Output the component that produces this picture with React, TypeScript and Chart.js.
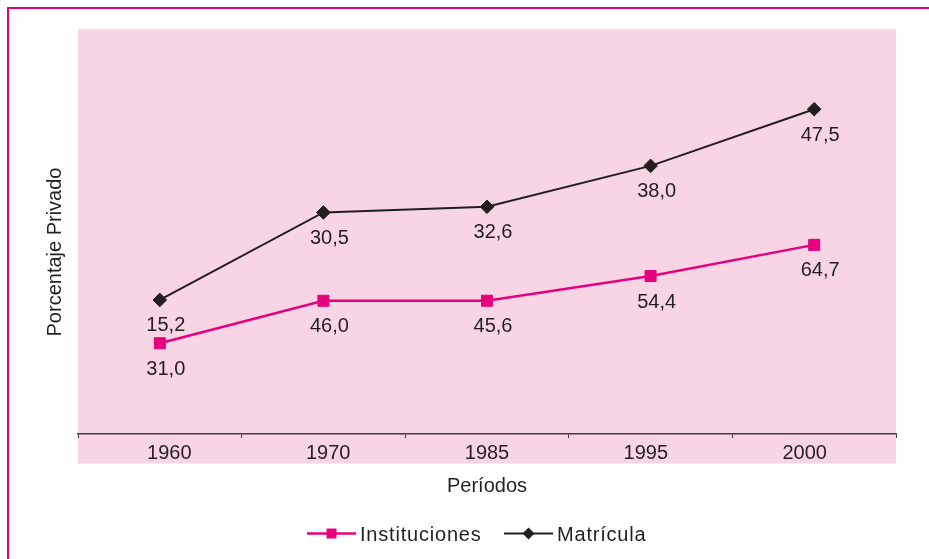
import React, { useEffect, useRef } from "react";
import { Chart, registerables } from "chart.js";

Chart.register(...registerables);

// ---- data ----
const periods = ["1960", "1970", "1985", "1995", "2000"];
const seriesNames = ["Instituciones", "Matrícula"];
// plotted heights of the marks (on a hidden 0–100 axis)
const institucionesPlotted = [22.4, 32.9, 32.9, 39.0, 46.7];
const matriculaPlotted = [33.1, 54.7, 56.1, 66.2, 80.2];
// value labels printed under each mark
const institucionesLabels = ["31,0", "46,0", "45,6", "54,4", "64,7"];
const matriculaLabels = ["15,2", "30,5", "32,6", "38,0", "47,5"];
const yAxisTitle = "Porcentaje Privado";
const xAxisTitle = "Períodos";

// ---- styles ----
const FONT = '"Liberation Sans", Arial, Helvetica, sans-serif';
const TEXT = "#231f20";
const PINK = "#E6007E";
const BLACK = "#231F20";
const BG = "#F8D5E5";
const AXIS = "#3f3f3f";

const valueLabels = [institucionesLabels, matriculaLabels];

function drawMarker(ctx: CanvasRenderingContext2D, kind: string, x: number, y: number, s: number, color: string) {
  ctx.fillStyle = color;
  ctx.beginPath();
  if (kind === "rect") {
    ctx.rect(x - s / 2, y - s / 2, s, s);
  } else {
    ctx.moveTo(x, y - s / 2 - 1);
    ctx.lineTo(x + s / 2 + 1, y);
    ctx.lineTo(x, y + s / 2 + 1);
    ctx.lineTo(x - s / 2 - 1, y);
    ctx.closePath();
  }
  ctx.fill();
}

const customPlugin = {
  id: "customDecor",
  beforeDraw(chart: any) {
    const { ctx, chartArea: a } = chart;
    ctx.save();
    ctx.fillStyle = "#ffffff";
    ctx.fillRect(0, 0, chart.width, chart.height);
    ctx.fillStyle = BG;
    ctx.fillRect(a.left, a.top, a.right - a.left, a.bottom + 29.5 - a.top);
    ctx.strokeStyle = PINK;
    ctx.lineWidth = 2;
    ctx.beginPath();
    ctx.moveTo(8, chart.height);
    ctx.lineTo(8, 8);
    ctx.lineTo(chart.width, 8);
    ctx.stroke();
    ctx.restore();
  },
  afterDatasetsDraw(chart: any) {
    const { ctx, chartArea: a } = chart;
    ctx.save();
    ctx.fillStyle = TEXT;
    ctx.font = `20px ${FONT}`;
    ctx.textAlign = "center";
    ctx.textBaseline = "middle";
    chart.data.datasets.forEach((_: any, i: number) => {
      const meta = chart.getDatasetMeta(i);
      meta.data.forEach((pt: any, j: number) => {
        ctx.fillText(valueLabels[i][j], pt.x + 6, pt.y + 26);
      });
    });

    // category labels (slightly tighter spacing than the category bands, as in the original)
    const xs = chart.scales.x;
    const cx = (a.left + a.right) / 2;
    periods.forEach((p, i) => {
      const px = xs.getPixelForValue(i);
      ctx.fillText(p, cx + (px - cx) * 0.971, 453);
    });

    // x axis title
    ctx.fillText(xAxisTitle, cx, 486);

    // y axis title
    ctx.save();
    ctx.translate(55, 252);
    ctx.rotate(-Math.PI / 2);
    ctx.fillText(yAxisTitle, 0, 0);
    ctx.restore();

    // legend
    (ctx as any).letterSpacing = "0.8px";
    ctx.textAlign = "left";
    const starts = [307, 504];
    chart.data.datasets.forEach((ds: any, i: number) => {
      const x0 = starts[i];
      const y0 = 533.5;
      ctx.strokeStyle = ds.borderColor;
      ctx.lineWidth = ds.borderWidth;
      ctx.beginPath();
      ctx.moveTo(x0, y0);
      ctx.lineTo(x0 + 49, y0);
      ctx.stroke();
      drawMarker(ctx, ds.pointStyle, x0 + 24.5, y0, 10, ds.borderColor);
      ctx.fillStyle = TEXT;
      ctx.fillText(ds.label, x0 + 53, y0 + 2);
    });
    ctx.restore();
  },
};

export default function App() {
  const ref = useRef<HTMLCanvasElement>(null);

  useEffect(() => {
    if (!ref.current) return;
    const chart = new Chart(ref.current, {
      type: "line",
      data: {
        labels: periods,
        datasets: [
          {
            label: seriesNames[0],
            data: institucionesPlotted,
            borderColor: PINK,
            backgroundColor: PINK,
            borderWidth: 2.5,
            pointStyle: "rect",
            pointRadius: 7.8,
            pointBackgroundColor: PINK,
            pointBorderColor: PINK,
            pointBorderWidth: 1,
            tension: 0,
          },
          {
            label: seriesNames[1],
            data: matriculaPlotted,
            borderColor: BLACK,
            backgroundColor: BLACK,
            borderWidth: 2,
            pointStyle: "rectRot",
            pointRadius: 6.8,
            pointBackgroundColor: BLACK,
            pointBorderColor: BLACK,
            pointBorderWidth: 1,
            tension: 0,
          },
        ],
      },
      options: {
        responsive: false,
        animation: false,
        devicePixelRatio: 1,
        events: [],
        layout: { padding: { left: 78, top: 29, right: 33, bottom: 0 } },
        plugins: {
          legend: { display: false },
          tooltip: { enabled: false },
          title: { display: false },
        },
        scales: {
          x: {
            offset: true,
            afterFit: (scale: any) => {
              scale.height = 125;
            },
            grid: {
              display: true,
              offset: true,
              drawOnChartArea: false,
              drawTicks: true,
              tickLength: 4,
              color: AXIS,
              lineWidth: 1,
            },
            border: { display: true, color: AXIS, width: 1.4 },
            ticks: {
              display: false,
              font: { family: FONT, size: 20 },
              padding: 4,
              maxRotation: 0,
            },
          },
          y: {
            display: false,
            min: 0,
            max: 100,
          },
        },
      },
      plugins: [customPlugin],
    });
    return () => chart.destroy();
  }, []);

  return (
    <div style={{ position: "fixed", left: 0, top: 0, width: 929, height: 559, background: "#fff" }}>
      <canvas ref={ref} width={929} height={559} style={{ display: "block", width: 929, height: 559 }} />
    </div>
  );
}
